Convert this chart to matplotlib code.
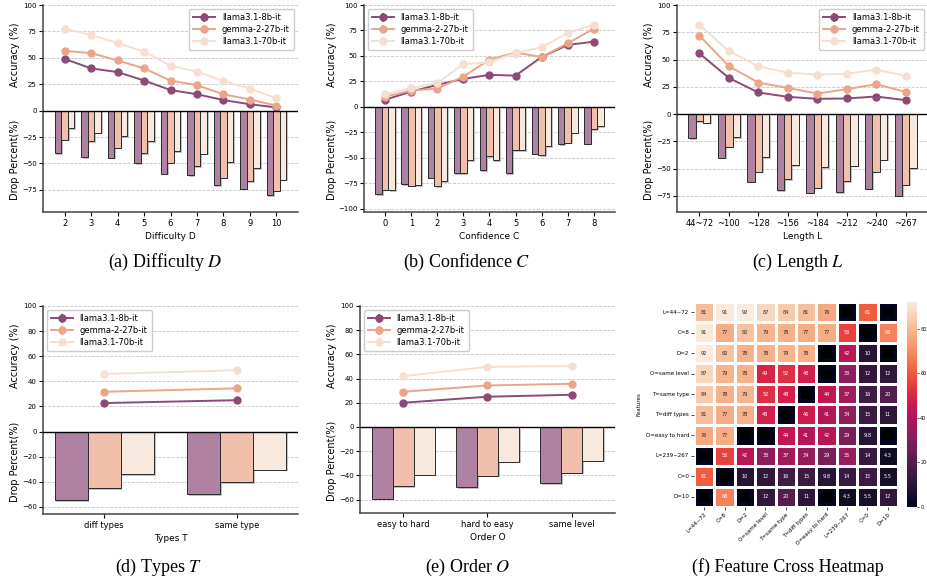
import numpy as np
import matplotlib
matplotlib.use("Agg")
import matplotlib.pyplot as plt
import matplotlib.patheffects as pe
from matplotlib.ticker import MultipleLocator
import seaborn as sns

models = ["llama3.1-8b-it", "gemma-2-27b-it", "llama3.1-70b-it"]
colors = ["#8c4a77", "#eaa58a", "#f6dfd0"]
bar_colors = ["#ae82a0", "#f0c0ad", "#f8e9df"]

# (a) difficulty
diff_cats = ["2", "3", "4", "5", "6", "7", "8", "9", "10"]
diff_acc = [[49, 40, 36.5, 28.5, 19.5, 15.5, 10, 6, 3],
            [56.5, 54.5, 47.5, 40, 28.5, 24, 15.5, 10.5, 4.7],
            [77.5, 71.8, 64, 55.8, 42.5, 37, 28, 20.8, 11.6]]
diff_drop = [[-40.6, -44, -44.4, -50, -59.7, -61.2, -70.6, -73.8, -80],
             [-27.5, -28.7, -35, -40, -49.4, -52.8, -63.4, -66.9, -75.9],
             [-16.6, -20.9, -24.4, -29, -38.4, -40.9, -49, -54.7, -65.3]]

# (b) confidence
conf_cats = ["0", "1", "2", "3", "4", "5", "6", "7", "8"]
conf_acc = [[7, 15, 21.6, 27.5, 31.4, 30.7, 49, 60.8, 64],
            [10, 16, 18, 29.7, 46.4, 53.3, 49, 62.4, 76.8],
            [12.4, 18.6, 23.5, 41.8, 43.8, 53, 58.5, 72.5, 80.7]]
conf_drop = [[-86, -76, -69.6, -65, -62, -65.4, -45.8, -36.6, -36],
             [-81.4, -77.5, -78, -65.4, -48.4, -42.2, -47.7, -35.3, -22.2],
             [-82, -76.8, -73.2, -52.6, -52.3, -42.8, -38.6, -25.2, -19]]

# (c) length
len_cats = ["44~72", "~100", "~128", "~156", "~184", "~212", "~240", "~267"]
len_acc = [[55.6, 33.1, 19.8, 15.8, 14, 14.3, 16.1, 12.8],
           [72, 43.8, 28.9, 24, 18.8, 22.8, 27.4, 20.4],
           [81.5, 57.8, 43.8, 38, 36.2, 37, 40.7, 35]]
len_drop = [[-21.9, -39.8, -62, -69.6, -72, -71.4, -68.4, -74.8],
            [-6.4, -30, -52.9, -59.9, -67.5, -61.4, -52.9, -64.7],
            [-7.9, -21.3, -39.5, -46.8, -48.9, -47.4, -41.9, -49.8]]

# (d) types
type_cats = ["diff types", "same type"]
type_acc = [[22.7, 25], [31.7, 34.4], [45.9, 48.8]]
type_drop = [[-54.7, -49.9], [-45.3, -40.3], [-34.1, -30.4]]

# (e) order
order_cats = ["easy to hard", "hard to easy", "same level"]
order_acc = [[20, 25, 26.6], [29.1, 34.3, 35.7], [42, 49.7, 50.3]]
order_drop = [[-59.3, -49.7, -46.7], [-49.2, -40.4, -37.9], [-39.6, -28.8, -28]]

# (f) feature cross heatmap
features = ["L=44~72", "C=8", "D=2", "O=same level", "T=same type",
            "T=diff types", "O=easy to hard", "L=239~267", "C=0", "D=10"]
cross = np.array([
    [81, 91, 92, 87, 84, 81, 76, 0, 61, 0],
    [91, 77, 82, 79, 78, 77, 77, 56, 0, 68],
    [92, 82, 78, 78, 79, 78, 0, 42, 10, 0],
    [87, 79, 78, 49, 52, 48, 0, 33, 12, 12],
    [84, 78, 79, 52, 48, 0, 44, 37, 16, 20],
    [81, 77, 78, 48, 0, 46, 41, 34, 15, 11],
    [76, 77, 0, 0, 44, 41, 42, 29, 9.8, 0],
    [0, 56, 42, 33, 37, 34, 29, 35, 14, 4.3],
    [61, 0, 10, 12, 16, 15, 9.8, 14, 15, 5.5],
    [0, 68, 0, 12, 20, 11, 0, 4.3, 5.5, 12],
])

plt.rcParams["font.family"] = ["DejaVu Sans"]
plt.rcParams["mathtext.fontset"] = "stix"

W, H = 928, 583
fig = plt.figure(figsize=(W / 100, H / 100), dpi=100)


def px_axes(l, t, r, b):
    return fig.add_axes([l / W, 1 - b / H, (r - l) / W, (b - t) / H])


def combo(ax, cats, acc, drop, xlabel, loc, step, yoff):
    x = np.arange(len(cats))
    w = 0.25
    for i in range(3):
        ax.bar(x + (i - 1) * w, drop[i], w, color=bar_colors[i],
               edgecolor="#2a2a2a", linewidth=0.7, zorder=2,
               path_effects=[pe.SimplePatchShadow(offset=(1.2, -1.2), shadow_rgbFace="#999999", alpha=0.6),
                             pe.Normal()])
    for i in range(3):
        ax.errorbar(x, acc[i], yerr=np.zeros(len(x)), color=colors[i], marker="o",
                    ms=5, lw=1.4, label=models[i], zorder=3)
    ax.axhline(0, color="black", lw=1, zorder=4)
    ax.set_ylim(min(min(d) for d in drop) * 1.2, 100)
    ax.yaxis.set_major_locator(MultipleLocator(step))
    ax.yaxis.grid(True, linestyle="--", color="#c8c8c8", linewidth=0.6)
    ax.set_axisbelow(True)
    ax.set_xticks(x)
    ax.set_xticklabels(cats)
    ax.tick_params(axis="y", labelsize=5, length=3, width=0.8, pad=1.5)
    ax.tick_params(axis="x", labelsize=6, length=3, width=0.8, pad=2)
    for s in ["top", "right"]:
        ax.spines[s].set_visible(False)
    for s in ["left", "bottom"]:
        ax.spines[s].set_linewidth(1.1)
        ax.spines[s].set_color("#444444")
    ax.set_xlabel(xlabel, fontsize=6.5, labelpad=3)
    ax.annotate("Accuracy (%)", xy=(0, 0.76), xycoords="axes fraction", xytext=(yoff, 0),
                textcoords="offset points", rotation=90, ha="center", va="center", fontsize=7)
    ax.annotate("Drop Percent(%)", xy=(0, 0.25), xycoords="axes fraction", xytext=(yoff, 0),
                textcoords="offset points", rotation=90, ha="center", va="center", fontsize=7)
    ax.legend(loc=loc, fontsize=6, handlelength=2.6, borderpad=0.5, labelspacing=0.35,
              framealpha=1, edgecolor="#cccccc")


ax_a = px_axes(43, 5, 298, 212)
combo(ax_a, diff_cats, diff_acc, diff_drop, "Difficulty D", "upper right", 25, -20)
ax_b = px_axes(364, 5, 615, 212)
combo(ax_b, conf_cats, conf_acc, conf_drop, "Confidence C", "upper left", 25, -23)
ax_c = px_axes(677, 5, 928, 212)
combo(ax_c, len_cats, len_acc, len_drop, "Length L", "upper right", 25, -20)
ax_d = px_axes(43, 306, 298, 514)
combo(ax_d, type_cats, type_acc, type_drop, "Types T", "upper left", 20, -20)
ax_e = px_axes(360, 306, 615, 513)
combo(ax_e, order_cats, order_acc, order_drop, "Order O", "upper left", 20, -20)

# heatmap
ax_h = px_axes(694, 302, 898, 507)
cax = px_axes(907, 302, 917, 507)
annot = np.array([["" if v == 0 else format(v, ".2g") for v in row] for row in cross])
sns.heatmap(cross, ax=ax_h, cbar_ax=cax, cmap="rocket", annot=annot, fmt="",
            annot_kws={"size": 3.6}, linewidths=0.8, linecolor="white",
            xticklabels=features, yticklabels=features)
zr, zc = np.where(cross == 0)
ax_h.scatter(zc + 0.5, zr + 0.5, marker="s", s=50, color="black", linewidths=0, zorder=3)
ax_h.tick_params(labelsize=4, length=2, width=0.5, pad=1.5)
ax_h.set_xticklabels(features, rotation=45, ha="right", rotation_mode="anchor")
ax_h.set_yticklabels(features, rotation=0)
ax_h.set_ylabel("Features", fontsize=4, labelpad=3)
cax.set_yticks([0, 20, 40, 60, 80])
cax.tick_params(labelsize=3.5, length=1.5, width=0.5, pad=0.8)

# captions
cap = dict(fontsize=13, family="Liberation Serif", ha="center", va="center")
fig.text(165 / W, 1 - 262 / H, r"(a) Difficulty $D$", **cap)
fig.text(467 / W, 1 - 262 / H, r"(b) Confidence $C$", **cap)
fig.text(798 / W, 1 - 262 / H, r"(c) Length $L$", **cap)
fig.text(159 / W, 1 - 567 / H, r"(d) Types $T$", **cap)
fig.text(468 / W, 1 - 567 / H, r"(e) Order $O$", **cap)
fig.text(788 / W, 1 - 567 / H, r"(f) Feature Cross Heatmap", **cap)

fig.savefig("out.png", dpi=100)
